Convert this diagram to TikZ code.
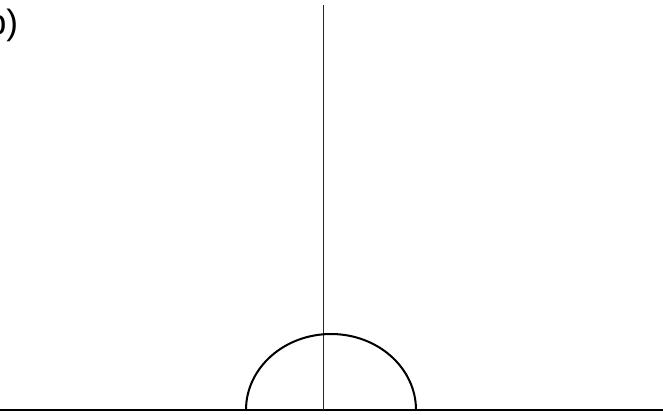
\documentclass[tikz,border=0pt]{standalone}
\usepackage{fontspec}
\setmainfont{Liberation Sans}
\usetikzlibrary{positioning}
\tikzset{
  axisline/.style={black, line width=1.1pt},
  stemline/.style={black!85, line width=1pt},
  domeline/.style={black, line width=1.15pt},
  panel/.style={inner sep=0pt, font=\fontsize{20}{24}\selectfont}
}
\begin{document}
\begin{tikzpicture}[x=0.02cm, y=-0.02cm]
  \useasboundingbox (0,0) rectangle (663,415);
  % panel label
  \node[panel, anchor=base east] (lab) at (18.5,35) {b)};
  % ground and axis
  \coordinate (gl) at (0,410);
  \coordinate (gr) at (663,410);
  \coordinate (top) at (323.5,5);
  \coordinate (foot) at (323.5,410);
  \draw[axisline] (gl) -- (gr);
  \draw[stemline] (top) -- (foot);
  % dome
  \coordinate (dl) at (246,410);
  \draw[domeline] (dl) arc[start angle=180, end angle=0, x radius=85, y radius=-76];
\end{tikzpicture}
\end{document}
